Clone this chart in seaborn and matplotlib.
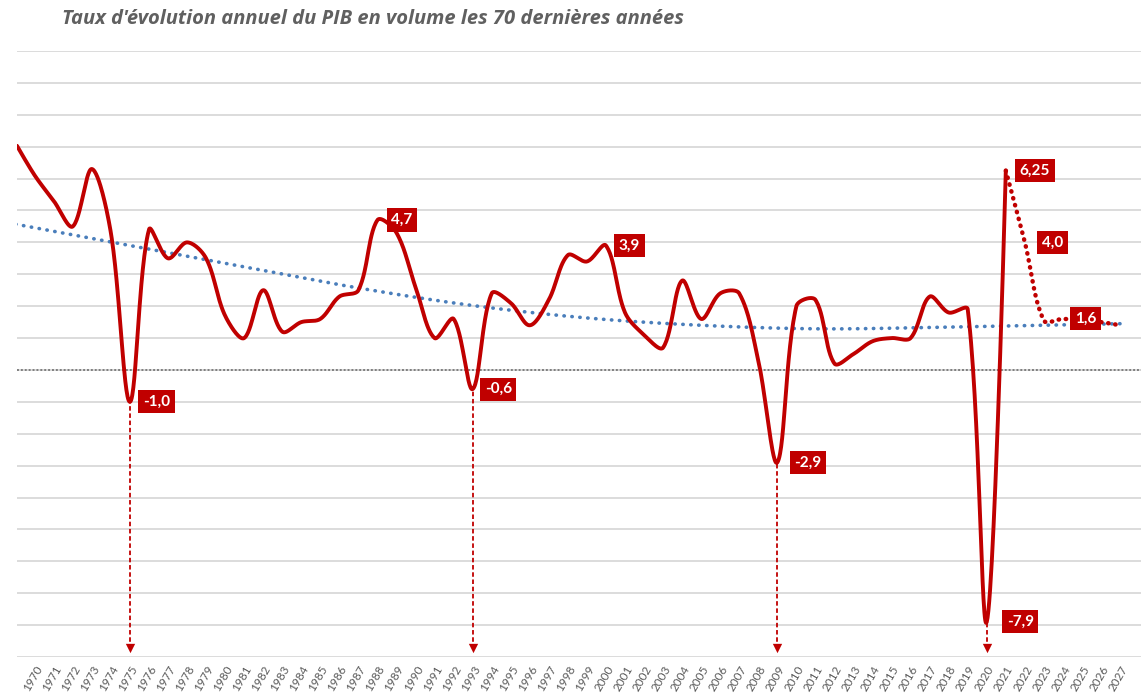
import numpy as np
import pandas as pd
import matplotlib
matplotlib.use("Agg")
import matplotlib.pyplot as plt
import seaborn as sns

# Données (taux d'évolution annuel du PIB, en %)
annees = list(range(1969, 2022))
pib = [7.1, 6.1, 5.3, 4.5, 6.3, 4.3, -1.0, 4.4, 3.5, 4.0,
       3.5, 1.7, 1.0, 2.5, 1.2, 1.5, 1.6, 2.3, 2.5, 4.7,
       4.3, 2.6, 1.0, 1.6, -0.6, 2.4, 2.1, 1.4, 2.2, 3.6,
       3.4, 3.9, 1.8, 1.1, 0.7, 2.8, 1.6, 2.4, 2.4, 0.3,
       -2.9, 2.0, 2.2, 0.2, 0.5, 0.9, 1.0, 1.0, 2.3, 1.8,
       1.9, -7.9, 6.25]

# Prévisions (pointillés rouges)
annees_prev = [2021, 2022, 2023, 2024, 2025, 2026, 2027]
pib_prev = [6.25, 4.0, 1.55, 1.6, 1.55, 1.5, 1.4]

# Courbe de tendance (pointillés bleus)
tend_annees = [1969, 1975, 1981, 1987, 1993, 1999, 2005, 2011, 2017, 2022, 2027]
tend_valeurs = [4.57, 3.90, 3.23, 2.57, 2.02, 1.63, 1.40, 1.29, 1.33, 1.39, 1.45]

# Étiquettes
etiq_annees = [1975, 1988, 1993, 2000, 2009, 2020, 2021, 2022, 2024]
etiq_textes = ["-1,0", "4,7", "-0,6", "3,9", "-2,9", "-7,9", "6,25", "4,0", "1,6"]
etiq_dx = [13, 14, 12, 13, 17, 20, 14, 17, 12]

# Flèches vers l'axe
fleches = [1975, 1993, 2009, 2020]

titre = "Taux d'évolution annuel du PIB en volume les 70 dernières années"
rouge = "#C00000"
bleu = "#4A7EBB"
gris = "#595959"

# rapport d'échelle y/x en pixels (1 an ~ 19 px, 1 point ~ 31.9 px)
ECH_Y = 31.9 / 19.05


def lisser(x, y, pas=30):
    # courbe lissée type Excel : Bezier, tangentes pondérées par la longueur des segments
    x = np.asarray(x, float)
    y = np.asarray(y, float)
    pts = np.column_stack([x, y * ECH_Y])
    n = len(pts)
    xs, ys = [], []
    for i in range(n - 1):
        p0 = pts[max(i - 1, 0)]
        p1 = pts[i]
        p2 = pts[i + 1]
        p3 = pts[min(i + 2, n - 1)]
        d01 = np.linalg.norm(p1 - p0)
        d12 = np.linalg.norm(p2 - p1)
        d23 = np.linalg.norm(p3 - p2)
        f1 = d12 / (d01 + d12) / 3 if d01 > 0 else 0
        f2 = d12 / (d12 + d23) / 3 if d23 > 0 else 0
        c1 = p1 + (p2 - p0) * f1
        c2 = p2 - (p3 - p1) * f2
        t = np.linspace(0, 1, pas, endpoint=(i == n - 2))[:, None]
        b = (1 - t) ** 3 * p1 + 3 * (1 - t) ** 2 * t * c1 + 3 * (1 - t) * t ** 2 * c2 + t ** 3 * p2
        xs.extend(b[:, 0])
        ys.extend(b[:, 1] / ECH_Y)
    return np.array(xs), np.array(ys)


sns.set_style("white")
plt.rcParams["font.family"] = ["Lato", "DejaVu Sans"]

fig = plt.figure(figsize=(11.43, 6.98), dpi=100)
ax = fig.add_axes([17 / 1143, 41 / 698, 1124 / 1143, 606 / 698])

# Courbe historique
xs, ys = lisser(annees, pib)
df_hist = pd.DataFrame({"annee": xs, "pib": ys})
sns.lineplot(data=df_hist, x="annee", y="pib", sort=False, color=rouge, lw=2.8, ax=ax, zorder=4)

# Prévisions
xp, yp = lisser(annees_prev, pib_prev)
ax.plot(xp, yp, color=rouge, lw=3.2, ls=(0, (0.1, 1.5)), dash_capstyle="round", zorder=4)

# Tendance
xt, yt = lisser(tend_annees, tend_valeurs)
ax.plot(xt, yt, color=bleu, lw=2.6, ls=(0, (0.1, 2.1)), dash_capstyle="round", zorder=3)

# Ligne zéro
ax.axhline(0, color="#7f7f7f", lw=1.4, ls=(0, (1, 1)), zorder=2)

# Flèches pointillées
valeurs = dict(zip(annees, pib))
for a in fleches:
    ax.vlines(a, -8.75, valeurs[a], colors=rouge, lw=1.3, ls=(0, (2.5, 1.5)), zorder=3)
    ax.scatter([a], [-8.72], marker="v", s=45, color=rouge, zorder=3, linewidths=0)

# Étiquettes rouges
valeurs.update(dict(zip(annees_prev, pib_prev)))
for a, txt, dx in zip(etiq_annees, etiq_textes, etiq_dx):
    ax.annotate(txt, (a, valeurs[a]), xytext=(dx, 0), textcoords="offset pixels",
                ha="left", va="center", color="white", fontsize=11, fontweight="bold",
                bbox=dict(boxstyle="square,pad=0.3", fc=rouge, ec="none"), zorder=6)

# Axes
ax.set_xlim(1969.07, 2028.1)
ax.set_ylim(-9, 10)
ax.set_yticks(range(-9, 11))
ax.yaxis.grid(True, color="#d9d9d9", lw=1.3)
ax.set_xticks(range(1970, 2028))
ax.set_xticklabels([str(a) for a in range(1970, 2028)], rotation=60, ha="right",
                   rotation_mode="anchor", fontsize=8.5, color=gris)
ax.tick_params(axis="both", length=0, labelleft=False, pad=5)
ax.set_xlabel("")
ax.set_ylabel("")
for s in ax.spines.values():
    s.set_visible(False)

fig.text(62 / 1143, 1 - 19 / 698, titre, ha="left", va="center", fontsize=14.5,
         style="italic", fontweight="bold", color="#606060",
         family=["Open Sans", "DejaVu Sans"])

plt.savefig("out.png", dpi=100)
